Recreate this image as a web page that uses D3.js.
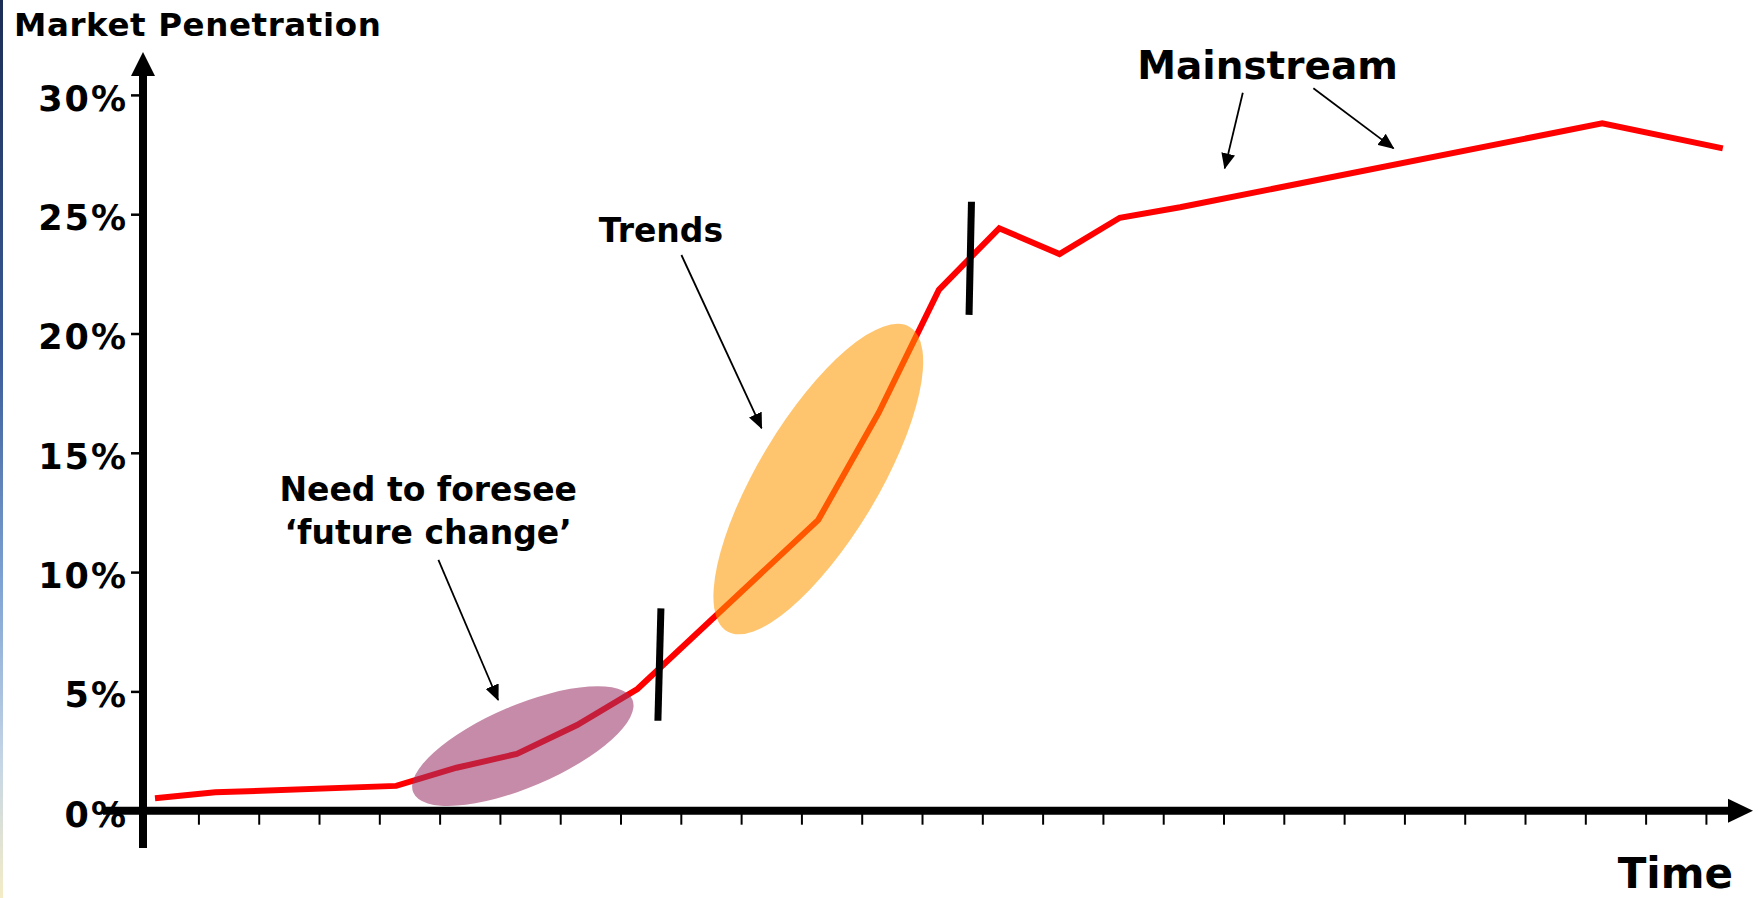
<!DOCTYPE html>
<html>
<head>
<meta charset="utf-8">
<script src="https://cdn.jsdelivr.net/npm/d3@7"></script>
<style>
  html, body { margin: 0; padding: 0; background: #fff; overflow: hidden; }
  svg { display: block; }
  text { font-family: "DejaVu Sans", Verdana, sans-serif; font-weight: bold; fill: #000; }
</style>
</head>
<body>
<div id="chart-container"></div>
<script>
// market penetration (%) per time period, only the corners of the curve
const periods = [0, 1, 4, 5, 6, 7, 8, 11, 12, 13, 14, 15, 16, 17, 24, 26];
const penetration = [0.52, 0.77, 1.04, 1.80, 2.38, 3.59, 5.10, 12.19, 16.67, 21.83, 24.41, 23.33, 24.85, 25.29, 28.81, 27.76];

const yTickValues = [0, 5, 10, 15, 20, 25, 30];
const yTickLabels = ["0%", "5%", "10%", "15%", "20%", "25%", "30%"];
const periodCount = 26;

// annotations, in chart units [period, %]
const highlightCenters = [[6.10, 2.71], [11.0, 13.9]];
const phaseBreaks = [[8.39, 8.48, 8.34, 3.77], [13.54, 25.52, 13.50, 20.78]];
const calloutLines = [["Need to foresee", "\u2018future change\u2019"], ["Trends"], ["Mainstream"]];
const calloutAnchors = [[4.53, 12.98], [8.39, 23.83], [18.45, 30.65]];
const calloutArrows = [
    [4.70, 10.51, 5.69, 4.64],
    [8.73, 23.29, 10.06, 16.03],
    [18.04, 30.09, 17.74, 26.92],
    [19.21, 30.28, 20.54, 27.76]
];

const width = 1758;
const height = 898;
const axisX = 143;
const pointShift = 0.28; // points sit a bit right of each tick

const x = d3.scaleLinear().domain([0, periodCount]).range([155, 1722.8]);
const y = d3.scaleLinear().domain([0, 30]).range([810.7, 94.9]);

const svg = d3.select("#chart-container")
    .append("svg")
    .attr("width", width)
    .attr("height", height);

// slide edge strip
const grad = svg.append("defs").append("linearGradient")
    .attr("id", "edge")
    .attr("x1", 0).attr("y1", 0).attr("x2", 0).attr("y2", 1);
[["0%", "#1c2d55"], ["40%", "#3b5c99"], ["65%", "#7fa3d4"], ["85%", "#c6d6e6"], ["100%", "#f4ecc6"]]
    .forEach(s => grad.append("stop").attr("offset", s[0]).attr("stop-color", s[1]));
svg.append("rect")
    .attr("x", 0).attr("y", 0)
    .attr("width", 3).attr("height", height)
    .attr("fill", "url(#edge)");

svg.select("defs").append("marker")
    .attr("id", "head")
    .attr("viewBox", "0 0 16 14")
    .attr("markerUnits", "userSpaceOnUse")
    .attr("markerWidth", 16)
    .attr("markerHeight", 14)
    .attr("refX", 15)
    .attr("refY", 7)
    .attr("orient", "auto")
    .append("path")
    .attr("d", "M0,0 L16,7 L0,14 Z")
    .attr("fill", "#000");

// title
svg.append("text")
    .attr("x", 14)
    .attr("y", 36)
    .style("font-size", "32.5px")
    .style("letter-spacing", "0.6px")
    .text("Market Penetration");

// y axis ticks + labels
const yAxis = svg.append("g")
    .attr("transform", `translate(${axisX},0)`)
    .call(d3.axisLeft(y)
        .tickValues(yTickValues)
        .tickFormat((d, i) => yTickLabels[i])
        .tickSize(12)
        .tickPadding(5));
yAxis.select(".domain").remove();
yAxis.selectAll(".tick line").attr("stroke", "#000").attr("stroke-width", 2.5);
yAxis.selectAll(".tick text")
    .attr("x", -15)
    .attr("dy", "0.44em")
    .attr("fill", "#000")
    .style("font-size", "35px")
    .style("letter-spacing", "2px")
    .style("font-family", "\"DejaVu Sans\", Verdana, sans-serif")
    .style("font-weight", "bold");

// x axis ticks
const xAxis = svg.append("g")
    .attr("transform", `translate(0,${y(0)})`)
    .call(d3.axisBottom(x)
        .tickValues(d3.range(1, periodCount + 1).map(k => k - pointShift))
        .tickFormat("")
        .tickSize(14));
xAxis.select(".domain").remove();
xAxis.selectAll(".tick line").attr("stroke", "#000").attr("stroke-width", 2);

// thick axis lines with arrow heads
svg.append("line")
    .attr("x1", axisX).attr("y1", 848)
    .attr("x2", axisX).attr("y2", 74)
    .attr("stroke", "#000").attr("stroke-width", 8);
svg.append("path")
    .attr("d", `M${axisX - 12},76 L${axisX + 12},76 L${axisX},52 Z`)
    .attr("fill", "#000");
svg.append("line")
    .attr("x1", 103).attr("y1", y(0))
    .attr("x2", 1730).attr("y2", y(0))
    .attr("stroke", "#000").attr("stroke-width", 8);
svg.append("path")
    .attr("d", `M1728,${y(0) - 12} L1728,${y(0) + 12} L1753,${y(0)} Z`)
    .attr("fill", "#000");

svg.append("text")
    .attr("x", 1733)
    .attr("y", 888)
    .attr("text-anchor", "end")
    .style("font-size", "42px")
    .text("Time");

// the curve
const line = d3.line()
    .x((d, i) => x(periods[i]))
    .y(d => y(d));

svg.append("path")
    .datum(penetration)
    .attr("d", line)
    .attr("fill", "none")
    .attr("stroke", "#ff0000")
    .attr("stroke-width", 6);

// highlight ellipses (drawn over the curve, see-through)
const highlightShape = [
    { rx: 119, ry: 41, rot: -23, color: "#993366" },
    { rx: 177.5, ry: 60, rot: -59, color: "#ff9900" }
];
svg.selectAll(".highlight")
    .data(highlightCenters)
    .enter()
    .append("ellipse")
    .attr("class", "highlight")
    .attr("transform", (d, i) => `translate(${x(d[0])},${y(d[1])}) rotate(${highlightShape[i].rot})`)
    .attr("rx", (d, i) => highlightShape[i].rx)
    .attr("ry", (d, i) => highlightShape[i].ry)
    .attr("fill", (d, i) => highlightShape[i].color)
    .attr("fill-opacity", 0.57);

// phase breaks
svg.selectAll(".phase")
    .data(phaseBreaks)
    .enter()
    .append("line")
    .attr("class", "phase")
    .attr("x1", d => x(d[0])).attr("y1", d => y(d[1]))
    .attr("x2", d => x(d[2])).attr("y2", d => y(d[3]))
    .attr("stroke", "#000")
    .attr("stroke-width", 7);

// callouts
svg.selectAll(".arrow")
    .data(calloutArrows)
    .enter()
    .append("line")
    .attr("class", "arrow")
    .attr("x1", d => x(d[0])).attr("y1", d => y(d[1]))
    .attr("x2", d => x(d[2])).attr("y2", d => y(d[3]))
    .attr("stroke", "#000")
    .attr("stroke-width", 1.8)
    .attr("marker-end", "url(#head)");

const calloutSize = [33, 33, 39];
calloutLines.forEach((lines, i) => {
    const t = svg.append("text")
        .attr("x", x(calloutAnchors[i][0]))
        .attr("y", y(calloutAnchors[i][1]))
        .attr("text-anchor", "middle")
        .style("font-size", calloutSize[i] + "px");
    lines.forEach((s, j) => {
        t.append("tspan")
            .attr("x", x(calloutAnchors[i][0]))
            .attr("dy", j === 0 ? 0 : 43)
            .text(s);
    });
});
</script>
</body>
</html>
